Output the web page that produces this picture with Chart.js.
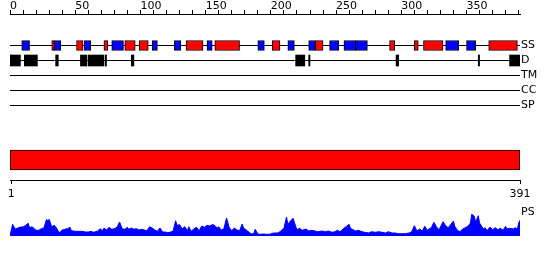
<!DOCTYPE html>
<html>
<head>
<meta charset="utf-8">
<script src="https://cdn.jsdelivr.net/npm/chart.js@4.4.0/dist/chart.umd.min.js"></script>
<style>
  body { margin: 0; background: #fff; }
  #wrap { position: relative; width: 550px; height: 260px; }
  #wrap canvas { position: absolute; left: 0; }
</style>
</head>
<body>
<div id="wrap">
  <canvas id="ruler" width="550" height="16" style="top:0"></canvas>
  <canvas id="tracks" width="550" height="95" style="top:30px"></canvas>
  <canvas id="seq" width="550" height="60" style="top:140px"></canvas>
  <canvas id="ps" width="550" height="44" style="top:200px"></canvas>
</div>
<script>
// sequence and rulers
const seqLength = 391;
const rulerLabels = [0, 50, 100, 150, 200, 250, 300, 350];
const seqTicks = [1, 391];

// track rows, labelled on the right
const trackNames = ['SS', 'D', 'TM', 'CC', 'SP'];

// residue ranges [start, end]
const helix = [[33, 34], [52, 56], [73, 75], [89, 96], [100, 106], [136, 148], [158, 176],
  [202, 207], [235, 240], [292, 295], [311, 313], [318, 332], [368, 389]];
const strand = [[10, 15], [35, 39], [58, 62], [79, 87], [110, 113], [127, 131], [152, 155],
  [191, 195], [214, 218], [230, 234], [246, 252], [257, 265], [266, 274], [335, 344], [351, 357]];
const disorder = [[1, 8], [12, 21], [36, 37], [55, 59], [61, 72], [74, 74], [94, 95],
  [220, 226], [230, 230], [297, 298], [360, 360], [384, 391]];

// PS profile (residue, value)
const psPos = [0, 2, 4, 6, 8, 10, 12, 14, 15, 17, 19, 20, 22, 24, 26, 28, 29, 30, 32, 34, 35, 37, 38, 40,
  42, 44, 46, 47, 50, 52, 55, 58, 60, 62, 64, 67, 69, 71, 72, 74, 76, 78, 80, 82, 84, 86, 88, 90, 91, 93,
  95, 97, 99, 101, 103, 105, 107, 109, 111, 113, 115, 117, 119, 121, 123, 125, 127, 128, 130, 132, 134,
  136, 137, 139, 141, 143, 145, 147, 149, 151, 153, 155, 156, 159, 160, 162, 164, 166, 168, 170, 172,
  174, 176, 178, 179, 182, 183, 185, 187, 188, 190, 192, 194, 197, 199, 202, 205, 207, 210, 212, 213,
  215, 217, 219, 220, 222, 224, 227, 229, 231, 234, 236, 239, 242, 244, 247, 249, 251, 253, 256, 258,
  260, 261, 263, 265, 267, 270, 272, 275, 277, 280, 283, 285, 288, 290, 293, 295, 298, 300, 303, 306,
  308, 310, 312, 314, 316, 318, 320, 322, 323, 325, 327, 329, 330, 332, 334, 336, 338, 340, 341, 343,
  345, 347, 349, 351, 353, 354, 356, 357, 359, 360, 363, 364, 366, 368, 370, 372, 374, 376, 378, 380,
  381, 383, 386, 387, 389, 390, 391];
const psVal = [0, 11.7, 7, 8, 9, 9, 10.7, 12.7, 8, 9.3, 6.7, 5.7, 5.7, 7.3, 8, 16.7, 15, 16.7, 9.3, 10.7,
  9.3, 5, 3.3, 6, 6.7, 7.3, 8.7, 5.3, 4.7, 4.7, 4.7, 4, 4, 4.7, 3.7, 4.7, 7.3, 5.3, 8, 6, 8.7, 6.7, 7.3,
  8.7, 14, 7.3, 6.7, 8.7, 6.7, 8, 6.7, 7.3, 6, 6.7, 6, 5.3, 9.3, 8, 6, 4.7, 8, 4, 4, 3.3, 4, 4.7, 15.3,
  10.7, 11.3, 7.3, 9.3, 5.3, 9.3, 4.7, 7.3, 8.7, 5.3, 10, 8.7, 10.7, 10, 11.3, 11.3, 8, 9.3, 6, 7.3, 18,
  8.7, 5.3, 8, 6, 5.3, 12, 8, 5.3, 4, 2, 2.7, 6.7, 2, 1.7, 2, 1.7, 1.7, 3, 3, 4.3, 7.7, 19, 11.7, 15,
  17.7, 9.7, 6.3, 7.7, 5.7, 7, 5, 5.7, 5, 4.3, 5, 4.3, 5, 3.7, 4.3, 5.7, 4.3, 7.7, 9.7, 11.7, 7.7, 6.3,
  5, 5.7, 4.3, 3.7, 3, 4.3, 3.7, 4.3, 3.7, 3, 4.3, 3, 3, 2.3, 2.3, 2.3, 3, 4.3, 10.3, 5, 7, 5, 9.7, 5.7,
  7.7, 8.3, 13.7, 9, 6.3, 9, 14.3, 10.3, 8.3, 11.7, 15, 9.7, 5.7, 4.3, 7, 8.3, 9.7, 13, 21.7, 19.7, 13.7,
  20.3, 13, 7, 8.3, 5.7, 9, 6.3, 8.3, 6.3, 7.7, 5.7, 9.7, 7, 7.7, 7, 8.3, 7, 13, 15.7];

Chart.defaults.font.family = 'DejaVu Sans';
Chart.defaults.font.size = 11;
Chart.defaults.color = '#000';
Chart.defaults.plugins.legend.display = false;
Chart.defaults.plugins.tooltip.enabled = false;
Chart.defaults.animation = false;
const common = { responsive: false, maintainAspectRatio: false };

// top ruler
new Chart(document.getElementById('ruler'), {
  type: 'scatter',
  data: { datasets: [] },
  options: {
    ...common,
    layout: { padding: { left: 10, right: 30, top: 0, bottom: 0 } },
    scales: {
      x: {
        type: 'linear', position: 'top', min: 0, max: seqLength,
        afterFit: s => { s.height = 14; },
        border: { color: '#000' },
        grid: { drawOnChartArea: false, color: '#000', tickLength: 4 },
        ticks: { stepSize: 10, includeBounds: false, autoSkip: false, maxRotation: 0, align: 'start', padding: -3,
          callback: v => rulerLabels.includes(v) ? String(v) : '' }
      },
      y: { display: false }
    }
  }
});

const toBars = (ranges, row) => ranges.map(r => ({ x: [r[0] - 1, r[1]], y: row }));

// feature tracks (one shared stack so the bars sit on the row centre)
new Chart(document.getElementById('tracks'), {
  type: 'bar',
  data: {
    labels: trackNames,
    datasets: [
      { label: 'Helix', stack: 'f', data: toBars(helix, 'SS'), backgroundColor: '#ff0000',
        borderColor: '#000', borderWidth: 1, borderSkipped: false, barThickness: 10 },
      { label: 'Strand', stack: 'f', data: toBars(strand, 'SS'), backgroundColor: '#0000ff',
        borderColor: '#000', borderWidth: 1, borderSkipped: false, barThickness: 10 },
      { label: 'Disorder', stack: 'f', data: toBars(disorder, 'D'), backgroundColor: '#000',
        borderWidth: 0, barThickness: 11 }
    ]
  },
  options: {
    ...common,
    indexAxis: 'y',
    layout: { padding: { left: 10, right: 0, top: 8, bottom: 12 } },
    scales: {
      x: { type: 'linear', min: 0, max: seqLength, stacked: false, display: false },
      y: {
        position: 'right',
        afterFit: s => { s.width = 30; },
        border: { display: false },
        grid: { offset: false, color: '#000', drawTicks: false },
        ticks: { padding: 1, autoSkip: false }
      }
    }
  }
});

// whole sequence bar with bottom ruler
new Chart(document.getElementById('seq'), {
  type: 'bar',
  data: {
    labels: ['sequence'],
    datasets: [{ data: [[0, seqLength]], backgroundColor: '#ff0000', borderColor: '#000',
      borderWidth: 1, borderSkipped: false, barThickness: 20 }]
  },
  options: {
    ...common,
    indexAxis: 'y',
    layout: { padding: { left: 10, right: 30, top: 0, bottom: 0 } },
    scales: {
      x: {
        type: 'linear', min: 0, max: seqLength,
        afterFit: s => { s.height = 20; },
        afterBuildTicks: s => { s.ticks = seqTicks.map(v => ({ value: v })); },
        border: { color: '#000' },
        grid: { drawOnChartArea: false, color: '#000', tickLength: 4 },
        ticks: { autoSkip: false, maxRotation: 0, padding: 4, callback: v => String(v) }
      },
      y: { display: false }
    }
  }
});

// PS profile
new Chart(document.getElementById('ps'), {
  type: 'line',
  data: {
    datasets: [{
      data: psPos.map((p, i) => ({ x: p, y: psVal[i] })),
      borderColor: '#0000ff', backgroundColor: '#0000ff', borderWidth: 1,
      fill: 'origin', pointRadius: 0, tension: 0
    }]
  },
  options: {
    ...common,
    layout: { padding: { left: 10, right: 0, top: 11, bottom: 8 } },
    scales: {
      x: { type: 'linear', min: 0, max: seqLength, display: false },
      y: {
        position: 'right', min: 0, max: 25,
        afterFit: s => { s.width = 30; },
        afterBuildTicks: s => { s.ticks = [{ value: 24 }]; },
        border: { display: false },
        grid: { display: false, drawTicks: false },
        ticks: { padding: 1, callback: () => 'PS' }
      }
    }
  }
});
</script>
</body>
</html>
